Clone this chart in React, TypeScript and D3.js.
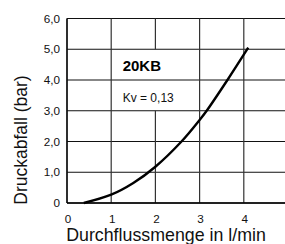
import React from "react";
import * as d3 from "d3";

const flowValues = [0.38, 1.0, 1.5, 2.0, 2.59, 3.0, 3.16, 3.63, 4.1];
const pressureValues = [0.0, 0.27, 0.65, 1.18, 2.0, 2.7, 3.0, 4.0, 5.05];
const xTicks = [0, 1, 2, 3, 4];
const xTickLabels = ["0", "1", "2", "3", "4"];
const yTicks = [0, 1, 2, 3, 4, 5, 6];
const yTickLabels = ["0", "1,0", "2,0", "3,0", "4,0", "5,0", "6,0"];
const modelLabel = "20KB";
const kvLabel = "Kv = 0,13";
const xTitle = "Durchflussmenge in l/min";
const yTitle = "Druckabfall (bar)";

const W = 285;
const H = 244;
const FONT = "'Liberation Sans', Arial, Helvetica, sans-serif";

export default function App() {
  const x = d3.scaleLinear().domain([0, 5]).range([67, 288]);
  const y = d3.scaleLinear().domain([0, 6]).range([203, 18.5]);
  const pts: [number, number][] = flowValues.map((v, i) => [v, pressureValues[i]]);
  const line = d3
    .line<[number, number]>()
    .x((d) => x(d[0]))
    .y((d) => y(d[1]))
    .curve(d3.curveCatmullRom.alpha(0.5));

  // vertical grid segments: line at x=2 is interrupted behind the labels (between 3 and 5)
  const vSegments = xTicks.flatMap((t) =>
    t === 2 ? [[t, 0, 3], [t, 5, 6]] : [[t, 0, 6]]
  );

  return (
    <svg
      width={W}
      height={H}
      style={{ position: "absolute", left: 0, top: 0, background: "#fff" }}
      fontFamily={FONT}
    >
      <rect width={W} height={H} fill="#fff" />
      {yTicks.map((t) => (
        <line key={"h" + t} x1={x(0)} x2={W} y1={y(t)} y2={y(t)} stroke="#111" strokeWidth={1.1} />
      ))}
      {vSegments.map(([t, a, b], i) => (
        <line key={"v" + i} x1={x(t)} x2={x(t)} y1={y(a)} y2={y(b)} stroke="#333" strokeWidth={1.2} />
      ))}
      <line x1={x(0)} x2={x(0)} y1={y(0)} y2={y(6)} stroke="#000" strokeWidth={1.3} />
      <line x1={x(0)} x2={W} y1={y(0)} y2={y(0)} stroke="#000" strokeWidth={1.3} />
      <path d={line(pts) || ""} fill="none" stroke="#000" strokeWidth={2.4} />
      {yTicks.map((t, i) => (
        <text key={"yl" + t} x={x(0) - 7} y={y(t)} dy="0.35em" textAnchor="end" fontSize={11.7} fill="#111">
          {yTickLabels[i]}
        </text>
      ))}
      {xTicks.map((t, i) => (
        <text key={"xl" + t} x={x(t) + 1} y={222.5} textAnchor="middle" fontSize={11.7} fill="#111">
          {xTickLabels[i]}
        </text>
      ))}
      <text x={122.7} y={70.7} fontSize={15} fontWeight="bold" fill="#000">
        {modelLabel}
      </text>
      <text x={122.7} y={102.3} fontSize={12} fill="#111">
        {kvLabel}
      </text>
      <text x={166} y={241} textAnchor="middle" fontSize={17.8} fill="#111">
        {xTitle}
      </text>
      <text transform="translate(27,140) rotate(-90)" textAnchor="middle" fontSize={17.5} fill="#111">
        {yTitle}
      </text>
    </svg>
  );
}
